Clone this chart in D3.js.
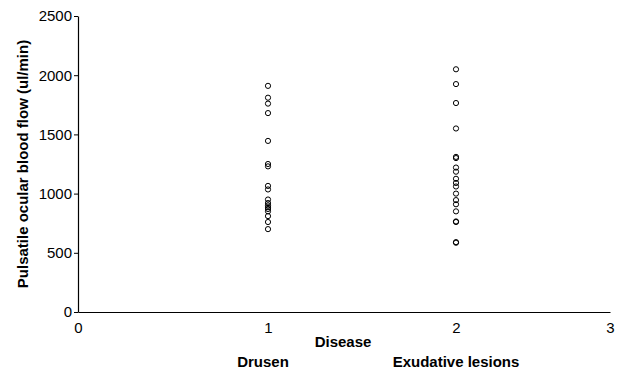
<!DOCTYPE html>
<html>
<head>
<meta charset="utf-8">
<script src="https://cdn.jsdelivr.net/npm/d3@7"></script>
<style>
  body { margin: 0; background: #fff; }
  svg { display: block; font-family: "Liberation Sans", Arial, sans-serif; }
</style>
</head>
<body>
<svg width="619" height="370"></svg>
<script>
// values
const groups = ['Drusen', 'Exudative lesions'];
const groupX = [1, 2];
const drusen = [1910, 1810, 1760, 1680, 1445, 1250, 1230, 1065, 1035, 950, 920, 900, 885, 870, 850, 810, 760, 700];
const exudative = [2050, 1925, 1765, 1550, 1310, 1300, 1220, 1185, 1125, 1090, 1060, 1000, 945, 910, 850, 765, 760, 590, 585];
const yTicks = [0, 500, 1000, 1500, 2000, 2500];
const xTicks = [0, 1, 2, 3];

const svg = d3.select('svg');

const x = d3.scaleLinear()
        .domain([0, 1, 2, 3])
        .range([78, 268, 456, 610]);

const y = d3.scaleLinear()
        .domain([0, 2500])
        .range([312, 16]);

const yAxis = svg.append('g')
        .attr('transform', 'translate(78,0)')
        .call(d3.axisLeft(y).tickValues(yTicks).tickSize(4).tickSizeOuter(0).tickPadding(2).tickFormat(d3.format('d')));

yAxis.selectAll('text').style('font-size', '15px').attr('fill', '#000');

const xAxis = svg.append('g')
        .attr('transform', 'translate(0,312)')
        .call(d3.axisBottom(x).tickValues(xTicks).tickSize(0).tickSizeOuter(0).tickPadding(10).tickFormat(d3.format('d')));

xAxis.selectAll('text').style('font-size', '15px').attr('fill', '#000');
svg.selectAll('.domain').attr('stroke', '#000').attr('stroke-width', 1.2);

const series = [drusen, exudative];
series.forEach((vals, i) => {
        svg.append('g')
                .selectAll('circle')
                .data(vals)
                .join('circle')
                .attr('cx', x(groupX[i]))
                .attr('cy', d => y(d))
                .attr('r', 2.6)
                .attr('fill', 'none')
                .attr('stroke', '#000')
                .attr('stroke-width', 1);
});

// axis titles
svg.append('text')
        .attr('x', 343)
        .attr('y', 347)
        .attr('text-anchor', 'middle')
        .style('font-size', '15px')
        .style('font-weight', 'bold')
        .text('Disease');

groups.forEach((g, i) => {
        svg.append('text')
                .attr('x', x(groupX[i]) - (i === 0 ? 5 : 0))
                .attr('y', 367)
                .attr('text-anchor', 'middle')
                .style('font-size', '15px')
                .style('font-weight', 'bold')
                .text(g);
});

svg.append('text')
        .attr('transform', `translate(28,${(16 + 312) / 2}) rotate(-90)`)
        .attr('text-anchor', 'middle')
        .style('font-size', '15px')
        .style('font-weight', 'bold')
        .text('Pulsatile ocular blood flow (ul/min)');
</script>
</body>
</html>
